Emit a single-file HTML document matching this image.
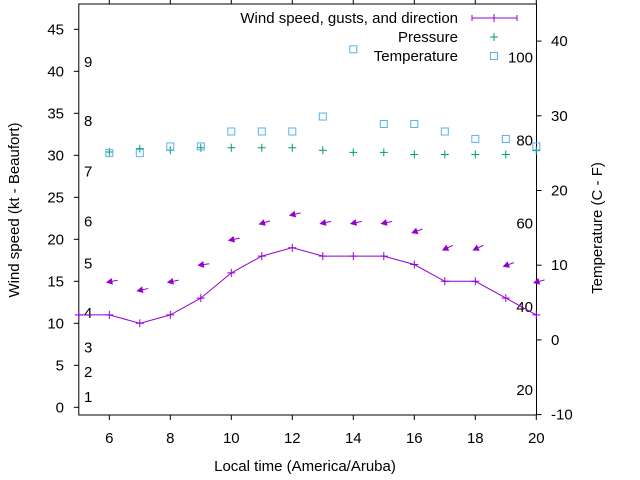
<!DOCTYPE html>
<html><head><meta charset="utf-8"><style>
body{margin:0;background:#fff}
svg{display:block;font-family:"Liberation Sans",sans-serif;font-size:15px}
</style></head><body>
<svg id="chart" width="640" height="480" viewBox="0 0 640 480" xmlns="http://www.w3.org/2000/svg">
<g id="axes"></g>
<g id="marks"></g>
<g id="legend">
<text x="458" y="23" text-anchor="end">Wind speed, gusts, and direction</text>
<line x1="472" y1="18" x2="517" y2="18" stroke="#9400d3"/>
<path d="M494 14v8M472 15v6M517 15v6" stroke="#9400d3"/>
<text x="458" y="42" text-anchor="end">Pressure</text>
<path d="M490 37h8M494 33v8" stroke="#009e73"/>
<text x="458" y="61" text-anchor="end">Temperature</text>
<rect x="490.5" y="52.5" width="7" height="7" fill="none" stroke="#56b4e9"/>
</g>
<text x="305" y="471" text-anchor="middle">Local time (America/Aruba)</text>
<text transform="translate(19,210) rotate(-90)" text-anchor="middle">Wind speed (kt - Beaufort)</text>
<text transform="translate(602,228) rotate(-90)" text-anchor="middle">Temperature (C - F)</text>
</svg>
<script>
const hours=[5,6,7,8,9,10,11,12,13,14,15,16,17,18,19,20];
const windSpeed=[11,11,10,11,13,16,18,19,18,18,18,17,15,15,13,11];
const gustHours=[6,7,8,9,10,11,12,13,14,15,16,17,18,19,20];
const gusts=[15,14,15,17,20,22,23,22,22,22,21,19,19,17,15];
const windDir=[79,78,78,82,78,73,77,78,78,78,70,65,65,70,75];
const pressHours=[6,7,8,9,10,11,12,13,14,15,16,17,18,19,20];
const pressure=[30.4,30.8,30.6,30.9,30.9,30.9,30.9,30.6,30.35,30.35,30.1,30.1,30.1,30.1,30.55];
const tempHours=[6,7,8,9,10,11,12,13,14,15,16,17,18,19,20];
const temperature=[25,25,25.9,25.9,27.9,27.9,27.9,29.9,38.9,28.9,28.9,27.9,26.9,26.9,25.9];
const xTicks=[6,8,10,12,14,16,18,20];
const yTicks=[0,5,10,15,20,25,30,35,40,45];
const y2Ticks=[-10,0,10,20,30,40];
const beaufortLabels=["1","2","3","4","5","6","7","8","9"];
const beaufortKt=[1.2,4.2,7.1,11.2,17.1,22.1,28.1,34.1,41.1];
const fLabels=["20","40","60","80","100"];
const fValues=[-6.7,4.4,15.6,26.7,37.8];

const L=78.8,R=536.5,T=4,B=415;
const X=v=>78.8+(v-5)*30.5;
const Y=v=>407.3-8.4*v;
const Y2=v=>339.9-7.47*v;
const NS="http://www.w3.org/2000/svg";
function mk(tag,attrs,parent){const e=document.createElementNS(NS,tag);for(const k in attrs)e.setAttribute(k,attrs[k]);parent.appendChild(e);return e;}
const ax=document.getElementById('axes'),mg=document.getElementById('marks');
let f=mk('rect',{x:L,y:T,width:R-L,height:B-T,fill:'none',stroke:'#000'},ax);


xTicks.forEach(v=>{
 let t=mk('path',{d:`M${X(v)} ${B}v5M${X(v)} ${T}v-5`,stroke:'#000'},ax);
 
 
 let l=mk('text',{x:X(v),y:443,'text-anchor':'middle'},ax);l.textContent=v;
 
 
});
yTicks.forEach(v=>{
 let t=mk('path',{d:`M${L} ${Y(v)}h-5`,stroke:'#000'},ax);
 
 
 let l=mk('text',{x:64,y:Y(v)+5,'text-anchor':'end'},ax);l.textContent=v;
 
 
});
y2Ticks.forEach(v=>{
 let t=mk('path',{d:`M${R} ${Y2(v)}h5`,stroke:'#000'},ax);
 
 
 let l=mk('text',{x:551,y:Y2(v)+5},ax);l.textContent=v;
 
 
});
beaufortLabels.forEach((s,i)=>{
 let l=mk('text',{x:84,y:Y(beaufortKt[i])+5},ax);l.textContent=s;
 
 
});
fLabels.forEach((s,i)=>{
 let l=mk('text',{x:533,y:Y2(fValues[i])+5,'text-anchor':'end'},ax);l.textContent=s;
 
 
});
// wind line
let pts=hours.map((h,i)=>X(h)+','+Y(windSpeed[i])).join(' ');
let pl=mk('polyline',{points:pts,fill:'none',stroke:'#9400d3'},mg);


hours.forEach((h,i)=>{
 let p=mk('path',{d:`M${X(h)-4} ${Y(windSpeed[i])}h8M${X(h)} ${Y(windSpeed[i])-4}v8`,stroke:'#9400d3'},mg);
 
 
});
// gust arrows
gustHours.forEach((h,i)=>{
 const len=11,a=windDir[i]*Math.PI/180;
 const vx=-Math.sin(a)*len,vy=Math.cos(a)*len;
 const cx=X(h)+3,cy=Y(gusts[i]);
 const hx=cx+vx/2,hy=cy+vy/2,tx=cx-vx/2,ty=cy-vy/2;
 const ux=vx/len,uy=vy/len,hl=5,hw=2.6;
 const bx=hx-ux*hl,by=hy-uy*hl;
 let g=mk('g',{},mg);
 
 
 mk('line',{x1:tx,y1:ty,x2:bx,y2:by,stroke:'#9400d3'},g);
 mk('polygon',{points:`${hx},${hy} ${bx-uy*hw},${by+ux*hw} ${bx+uy*hw},${by-ux*hw}`,fill:'#9400d3',stroke:'#9400d3'},g);
});
pressHours.forEach((h,i)=>{
 let p=mk('path',{d:`M${X(h)-4} ${Y(pressure[i])}h8M${X(h)} ${Y(pressure[i])-4}v8`,stroke:'#009e73'},mg);
 
 
});
tempHours.forEach((h,i)=>{
 let r=mk('rect',{x:X(h)-3.5,y:Y2(temperature[i])-3.5,width:7,height:7,fill:'none',stroke:'#56b4e9'},mg);
 
 
});
</script>
</body></html>
